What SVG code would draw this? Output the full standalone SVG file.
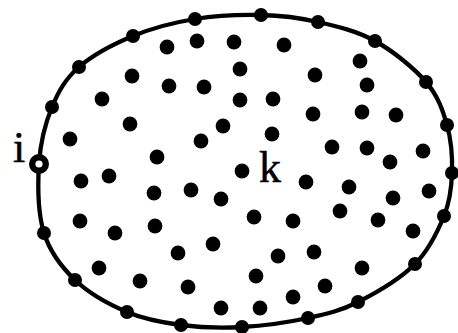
<svg xmlns="http://www.w3.org/2000/svg" width="458" height="333" viewBox="0 0 458 333">
<style>
.b{fill:none;stroke:#000;stroke-width:4.3}
.d{fill:#000}
.t{font-family:"Liberation Serif","DejaVu Serif",serif;font-size:44px;fill:#000;stroke:#000;stroke-width:0.5}
</style>
<rect width="458" height="333" fill="#fff"/>
<g id="connectors">
<path class="b" d="M39,164 C40.3,143 45.3,123.2 52,107 C58.7,90.8 65.5,78.8 79,67 C92.5,55.2 113.7,44 133,36 C152.3,28 173.7,22.5 195,19 C216.3,15.5 240.5,14.5 261,15 C281.5,15.5 299,17.7 318,22 C337,26.3 357,31 375,41 C393,51 414,68 426,82 C438,96 442.7,109.8 447,125 C451.3,140.2 452.5,157.8 452,173 C451.5,188.2 450.2,200.8 444,216 C437.8,231.2 429.3,249.7 415,264 C400.7,278.3 375.8,293 358,302 C340.2,311 327.3,313.8 308,318 C288.7,322.2 263.2,325.8 242,327 C220.8,328.2 200.2,327.5 181,325 C161.8,322.5 144.7,319.5 127,312 C109.3,304.5 88.8,293.2 75,280 C61.2,266.8 50,252.3 44,233 C38,213.7 37.7,185 39,164 Z"/>
</g>
<g id="boundary-nodes" class="d">
<circle cx="52" cy="107" r="7"/><circle cx="79" cy="67" r="7"/><circle cx="133" cy="36" r="7"/><circle cx="195" cy="19" r="7"/><circle cx="261" cy="15" r="7"/><circle cx="318" cy="22" r="7"/><circle cx="375" cy="41" r="7"/><circle cx="426" cy="82" r="7"/><circle cx="447" cy="125" r="7"/><circle cx="452" cy="173" r="7"/><circle cx="444" cy="216" r="7"/><circle cx="415" cy="264" r="7"/><circle cx="358" cy="302" r="7"/><circle cx="308" cy="318" r="7"/><circle cx="242" cy="327" r="7"/><circle cx="181" cy="325" r="7"/><circle cx="127" cy="312" r="7"/><circle cx="75" cy="280" r="7"/><circle cx="44" cy="233" r="7"/>
</g>
<g id="interior-nodes" class="d">
<circle cx="167" cy="47" r="7.4"/><circle cx="197" cy="41" r="7.4"/><circle cx="234" cy="42" r="7.4"/><circle cx="284" cy="45" r="7.4"/>
<circle cx="132" cy="76" r="7.4"/><circle cx="240" cy="69" r="7.4"/><circle cx="315" cy="75" r="7.4"/><circle cx="360" cy="61" r="7.4"/>
<circle cx="169" cy="86" r="7.4"/><circle cx="204" cy="87" r="7.4"/><circle cx="367" cy="85" r="7.4"/>
<circle cx="102" cy="99" r="7.4"/><circle cx="240" cy="100" r="7.4"/><circle cx="273" cy="99" r="7.4"/>
<circle cx="130" cy="124" r="7.4"/><circle cx="223" cy="126" r="7.4"/><circle cx="313" cy="114" r="7.4"/><circle cx="362" cy="112" r="7.4"/><circle cx="396" cy="115" r="7.4"/>
<circle cx="70" cy="139" r="7.4"/><circle cx="201" cy="141" r="7.4"/><circle cx="272" cy="134" r="7.4"/>
<circle cx="157" cy="157" r="7.4"/><circle cx="332" cy="147" r="7.4"/><circle cx="367" cy="148" r="7.4"/><circle cx="423" cy="151" r="7.4"/>
<circle cx="390" cy="162" r="7.4"/>
<circle cx="81" cy="181" r="7.4"/><circle cx="109" cy="176" r="7.4"/><circle cx="306" cy="182" r="7.4"/><circle cx="349" cy="187" r="7.4"/><circle cx="429" cy="191" r="7.4"/>
<circle cx="154" cy="193" r="7.4"/><circle cx="191" cy="190" r="7.4"/><circle cx="221" cy="199" r="7.4"/><circle cx="393" cy="198" r="7.4"/>
<circle cx="254" cy="217" r="7.4"/><circle cx="293" cy="221" r="7.4"/><circle cx="340" cy="211" r="7.4"/><circle cx="378" cy="220" r="7.4"/><circle cx="413" cy="231" r="7.4"/>
<circle cx="80" cy="221" r="7.4"/><circle cx="115" cy="233" r="7.4"/><circle cx="155" cy="226" r="7.4"/>
<circle cx="213" cy="244" r="7.4"/><circle cx="178" cy="253" r="7.4"/><circle cx="278" cy="256" r="7.4"/><circle cx="314" cy="252" r="7.4"/>
<circle cx="99" cy="268" r="7.4"/><circle cx="140" cy="281" r="7.4"/><circle cx="188" cy="287" r="7.4"/><circle cx="256" cy="276" r="7.4"/><circle cx="325" cy="286" r="7.4"/><circle cx="362" cy="268" r="7.4"/>
<circle cx="221" cy="308" r="7.4"/><circle cx="260" cy="308" r="7.4"/><circle cx="293" cy="297" r="7.4"/>
</g>
<g id="node-i">
<circle cx="39" cy="164" r="6.8" fill="#fff" stroke="#000" stroke-width="6.4"/>
<text class="t" x="13" y="162">i</text>
</g>
<g id="node-k">
<circle class="d" cx="242" cy="171" r="7.4"/>
<text class="t" x="259" y="182">k</text>
</g>
</svg>
